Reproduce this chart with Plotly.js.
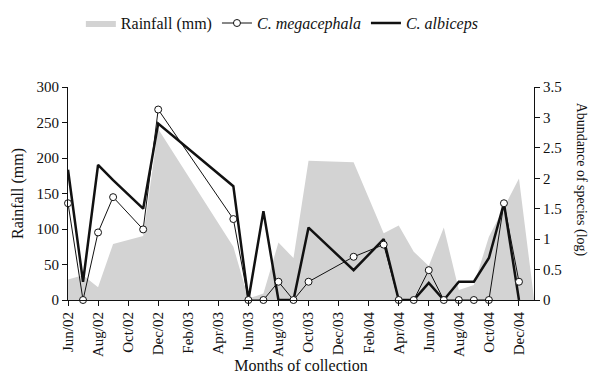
<!DOCTYPE html>
<html>
<head>
<meta charset="utf-8">
<script src="https://cdn.plot.ly/plotly-3.0.1.min.js"></script>
<style>html,body{margin:0;padding:0;background:#fff;}#chart{width:590px;height:374px;}</style>
</head>
<body>
<div id="chart"></div>
<script>
// All months on the axis (Jun/02 .. Jan/05)
const months = ['Jun/02','Jul/02','Aug/02','Sep/02','Oct/02','Nov/02','Dec/02','Jan/03','Feb/03','Mar/03','Apr/03','May/03',
  'Jun/03','Jul/03','Aug/03','Sep/03','Oct/03','Nov/03','Dec/03','Jan/04','Feb/04','Mar/04','Apr/04','May/04',
  'Jun/04','Jul/04','Aug/04','Sep/04','Oct/04','Nov/04','Dec/04','Jan/05'];
const tickMonths = ['Jun/02','Aug/02','Oct/02','Dec/02','Feb/03','Apr/03','Jun/03','Aug/03','Oct/03','Dec/03',
  'Feb/04','Apr/04','Jun/04','Aug/04','Oct/04','Dec/04'];

// Rainfall (mm)
const rainMonths = ['Jun/02','Jul/02','Aug/02','Sep/02','Nov/02','Dec/02','May/03','Jun/03','Jul/03','Aug/03','Sep/03',
  'Oct/03','Jan/04','Mar/04','Apr/04','May/04','Jun/04','Jul/04','Aug/04','Sep/04','Oct/04','Nov/04','Dec/04','Jan/05'];
const rainfall = [29, 35, 18, 79, 90, 241, 75, 2, 9, 81, 59, 196, 194, 94, 105, 68, 48, 102, 14, 21, 89, 129, 171, 2];

// Abundance of species (log)
const sampleMonths = ['Jun/02','Jul/02','Aug/02','Sep/02','Nov/02','Dec/02','May/03','Jun/03','Jul/03','Aug/03','Sep/03',
  'Oct/03','Jan/04','Mar/04','Apr/04','May/04','Jun/04','Jul/04','Aug/04','Sep/04','Oct/04','Nov/04','Dec/04'];
const megacephala = [1.59, 0, 1.11, 1.69, 1.16, 3.13, 1.33, 0, 0, 0.30, 0, 0.30, 0.71, 0.91, 0, 0, 0.49, 0, 0, 0, 0, 1.59, 0.30];
const albiceps    = [2.14, 0.30, 2.22, 1.97, 1.50, 2.90, 1.87, 0, 1.46, 0, 0, 1.19, 0.49, 1.00, 0, 0, 0.28, 0, 0.30, 0.30, 0.69, 1.59, 0];

const FONT = 'Liberation Serif, Times New Roman, serif';

const traces = [
  {
    x: rainMonths, y: rainfall, name: 'Rainfall (mm)', type: 'scatter', mode: 'lines',
    fill: 'tozeroy', fillcolor: '#d3d3d3', line: {width: 0, color: '#d3d3d3'},
    yaxis: 'y', legendrank: 1, hoverinfo: 'skip'
  },
  {
    x: sampleMonths, y: albiceps, name: '<i>C. albiceps</i>', type: 'scatter', mode: 'lines',
    line: {color: '#111', width: 2.5}, yaxis: 'y2', cliponaxis: false, legendrank: 3
  },
  {
    x: sampleMonths, y: megacephala, name: '<i>C. megacephala</i>', type: 'scatter', mode: 'lines+markers',
    line: {color: '#111', width: 1},
    marker: {symbol: 'circle', size: 7, color: '#fff', line: {color: '#111', width: 1}},
    yaxis: 'y2', cliponaxis: false, legendrank: 2
  }
];

const layout = {
  width: 590, height: 374,
  margin: {l: 68, r: 56, t: 87, b: 74, autoexpand: false},
  paper_bgcolor: '#fff', plot_bgcolor: '#fff',
  font: {family: FONT, size: 15, color: '#111'},
  showlegend: true,
  legend: {orientation: 'h', x: 0.46, xanchor: 'center', y: 1.3, yanchor: 'middle',
           font: {family: FONT, size: 16, color: '#111'}, traceorder: 'normal', itemwidth: 30},
  xaxis: {
    type: 'category', categoryorder: 'array', categoryarray: months,
    range: [0, 31], tickmode: 'array', tickvals: tickMonths, ticktext: tickMonths,
    tickangle: -90, ticks: 'outside', ticklen: 5, tickcolor: '#111',
    showline: true, linecolor: '#111', linewidth: 1, showgrid: false, zeroline: false,
    tickfont: {size: 15}, automargin: false,
    title: {text: 'Months of collection', font: {size: 16}, standoff: 8}
  },
  yaxis: {
    range: [0, 300], dtick: 50, ticks: 'outside', ticklen: 5, tickcolor: '#111',
    showline: true, linecolor: '#111', linewidth: 1, showgrid: false, zeroline: false,
    tickfont: {size: 15}, automargin: false,
    title: {text: 'Rainfall (mm)', font: {size: 16}, standoff: 8}
  },
  yaxis2: {
    overlaying: 'y', side: 'right', range: [0, 3.5], dtick: 0.5,
    ticks: 'outside', ticklen: 5, tickcolor: '#111',
    showline: true, linecolor: '#111', linewidth: 1, showgrid: false, zeroline: false,
    tickfont: {size: 15}, automargin: false
  },
  annotations: [{
    text: 'Abundance of species (log)', xref: 'paper', yref: 'paper',
    x: 1.1, y: 0.567, xanchor: 'center', yanchor: 'middle', textangle: 90,
    showarrow: false, font: {family: FONT, size: 14, color: '#111'}
  }]
};

Plotly.newPlot('chart', traces, layout, {displayModeBar: false, staticPlot: true});
</script>
</body>
</html>
